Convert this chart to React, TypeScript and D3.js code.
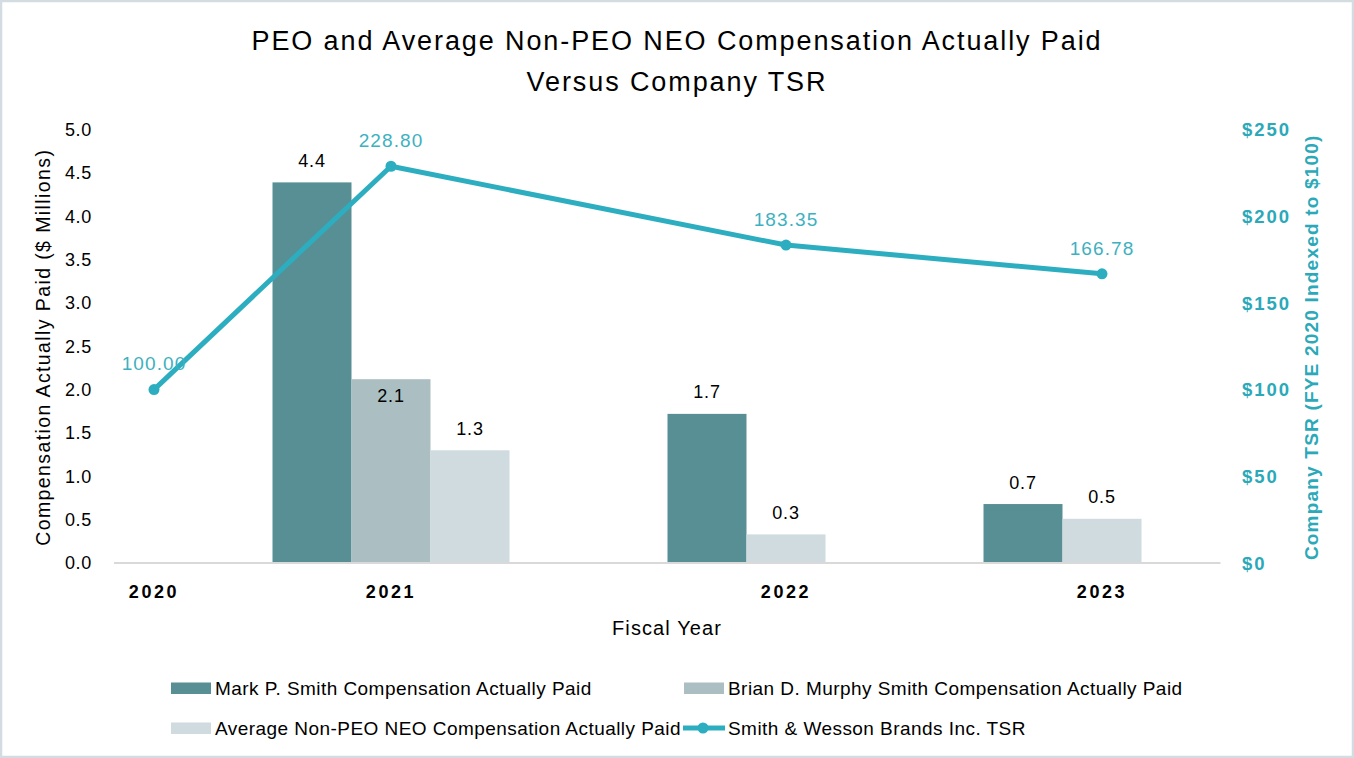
import React from "react";
import * as d3 from "d3";

// ---------- data ----------
const years = ["2020", "2021", "2022", "2023"];
const markSmith: (number | null)[] = [null, 4.39, 1.72, 0.68];
const brianMurphy: (number | null)[] = [null, 2.12, null, null];
const avgNonPeo: (number | null)[] = [null, 1.3, 0.33, 0.51];
const tsr = [100.0, 228.8, 183.35, 166.78];
const leftTicks = [0, 0.5, 1, 1.5, 2, 2.5, 3, 3.5, 4, 4.5, 5];
const rightTicks = [0, 50, 100, 150, 200, 250];
const seriesNames = [
  "Mark P. Smith Compensation Actually Paid",
  "Brian D. Murphy Smith Compensation Actually Paid",
  "Average Non-PEO NEO Compensation Actually Paid",
];
const lineName = "Smith & Wesson Brands Inc. TSR";

// ---------- layout / style ----------
const W = 1354;
const H = 758;
const FONT = "'Liberation Sans', Arial, sans-serif";
const barColors = ["#578F95", "#ABBFC2", "#CFDBDF"];
const lineColor = "#2CAEC0";
const tsrLabelColor = "#3DB1BF";
const axisCyan = "#2BA9B8";
const groupStartSlot = [0, 3, 8, 12]; // slot where each year's cluster starts
const slotsPerGroup = 3;
const totalSlots = 15;

const plotTop = 129.5;
const plotBottom = 563;
const plotLeft = 35.5;
const plotRight = 1220.5;

export default function App() {
  const series = [markSmith, brianMurphy, avgNonPeo];

  const x = d3
    .scaleBand<number>()
    .domain(d3.range(totalSlots))
    .range([plotLeft, plotRight])
    .paddingInner(0)
    .paddingOuter(0);
  const bw = x.bandwidth();
  const yL = d3.scaleLinear().domain([0, 5]).range([plotBottom, plotTop]);
  const yR = d3.scaleLinear().domain([0, 250]).range([plotBottom, plotTop]);

  const groupCenter = (i: number) =>
    (x(groupStartSlot[i]) as number) + (bw * slotsPerGroup) / 2;

  type Bar = { s: number; i: number; v: number; x0: number };
  const bars: Bar[] = [];
  years.forEach((_, i) => {
    let k = 0;
    series.forEach((arr, s) => {
      const v = arr[i];
      if (v != null) {
        bars.push({ s, i, v, x0: x(groupStartSlot[i] + k) as number });
        k++;
      }
    });
  });

  const linePath = d3
    .line<number>()
    .x((_, i) => groupCenter(i))
    .y((d) => yR(d))(tsr) as string;

  return (
    <svg
      width={W}
      height={H}
      style={{ position: "fixed", left: 0, top: 0, background: "#fff" }}
      fontFamily={FONT}
    >
      <rect x={0} y={0} width={W} height={H} fill="#fff" />
      <rect
        x={1}
        y={1}
        width={W - 2}
        height={H - 2}
        fill="none"
        stroke="#D3DDE1"
        strokeWidth={2.5}
      />

      {/* title */}
      <text x={677} y={50} textAnchor="middle" fontSize={27} fill="#000" letterSpacing={1.9}>
        PEO and Average Non-PEO NEO Compensation Actually Paid
      </text>
      <text x={677} y={91} textAnchor="middle" fontSize={27} fill="#000" letterSpacing={1.9}>
        Versus Company TSR
      </text>

      {/* left axis ticks */}
      {leftTicks.map((t) => (
        <text
          key={"l" + t}
          x={92}
          y={yL(t)}
          dy="0.36em"
          textAnchor="end"
          fontSize={18}
          letterSpacing={0.7}
          fill="#000"
        >
          {t.toFixed(1)}
        </text>
      ))}
      <text
        transform={`translate(50,${(plotTop + plotBottom) / 2 + 1}) rotate(-90)`}
        textAnchor="middle"
        fontSize={19.5}
        letterSpacing={1.4}
        fill="#000"
      >
        Compensation Actually Paid ($ Millions)
      </text>

      {/* right axis ticks */}
      {rightTicks.map((t) => (
        <text
          key={"r" + t}
          x={1242}
          y={yR(t)}
          dy="0.36em"
          textAnchor="start"
          fontSize={18.5}
          fontWeight="bold"
          letterSpacing={2}
          fill={axisCyan}
        >
          {"$" + t}
        </text>
      ))}
      <text
        transform={`translate(1318,${(plotTop + plotBottom) / 2 + 1}) rotate(-90)`}
        textAnchor="middle"
        fontSize={19}
        fontWeight="bold"
        letterSpacing={1.2}
        fill={axisCyan}
      >
        Company TSR (FYE 2020 Indexed to $100)
      </text>

      {/* bars */}
      {bars.map((b) => (
        <rect
          key={`b${b.s}-${b.i}`}
          x={b.x0}
          y={yL(b.v)}
          width={bw}
          height={plotBottom - yL(b.v)}
          fill={barColors[b.s]}
        />
      ))}

      {/* baseline */}
      <line x1={114} x2={plotRight} y1={plotBottom} y2={plotBottom} stroke="#D9D9D9" strokeWidth={2} />

      {/* bar labels */}
      {bars.map((b) => (
        <text
          key={`bl${b.s}-${b.i}`}
          x={b.x0 + bw / 2}
          y={b.s === 1 ? yL(b.v) + 16 : yL(b.v) - 22}
          dy="0.36em"
          textAnchor="middle"
          fontSize={18}
          letterSpacing={0.8}
          fill="#000"
        >
          {b.v.toFixed(1)}
        </text>
      ))}

      {/* x labels */}
      {years.map((yr, i) => (
        <text
          key={"x" + yr}
          x={groupCenter(i)}
          y={592}
          dy="0.36em"
          textAnchor="middle"
          fontSize={18}
          fontWeight="bold"
          letterSpacing={2.6}
          fill="#000"
        >
          {yr}
        </text>
      ))}
      <text x={667} y={628} dy="0.36em" textAnchor="middle" fontSize={20} letterSpacing={1.1} fill="#000">
        Fiscal Year
      </text>

      {/* TSR line */}
      <path d={linePath} fill="none" stroke={lineColor} strokeWidth={5} strokeLinejoin="round" />
      {tsr.map((v, i) => (
        <circle key={"c" + i} cx={groupCenter(i)} cy={yR(v)} r={5.5} fill={lineColor} />
      ))}
      {tsr.map((v, i) => (
        <text
          key={"tl" + i}
          x={groupCenter(i)}
          y={yR(v) - 26}
          dy="0.36em"
          textAnchor="middle"
          fontSize={19}
          letterSpacing={1.1}
          fill={tsrLabelColor}
        >
          {v.toFixed(2)}
        </text>
      ))}

      {/* legend */}
      {seriesNames.map((name, s) => {
        const col = s === 1 ? 1 : 0;
        const row = s === 2 ? 1 : 0;
        const lx = col === 0 ? 171 : 684;
        const ly = row === 0 ? 688 : 728;
        return (
          <g key={"lg" + s}>
            <rect x={lx} y={ly - 5.5} width={40} height={11.5} fill={barColors[s]} />
            <text x={lx + 44} y={ly} dy="0.36em" fontSize={19} letterSpacing={0.45} fill="#000">
              {name}
            </text>
          </g>
        );
      })}
      <g>
        <line x1={683} x2={725} y1={728} y2={728} stroke={lineColor} strokeWidth={5} />
        <circle cx={703} cy={728} r={5.5} fill={lineColor} />
        <text x={728} y={728} dy="0.36em" fontSize={19} letterSpacing={0.45} fill="#000">
          {lineName}
        </text>
      </g>
    </svg>
  );
}
